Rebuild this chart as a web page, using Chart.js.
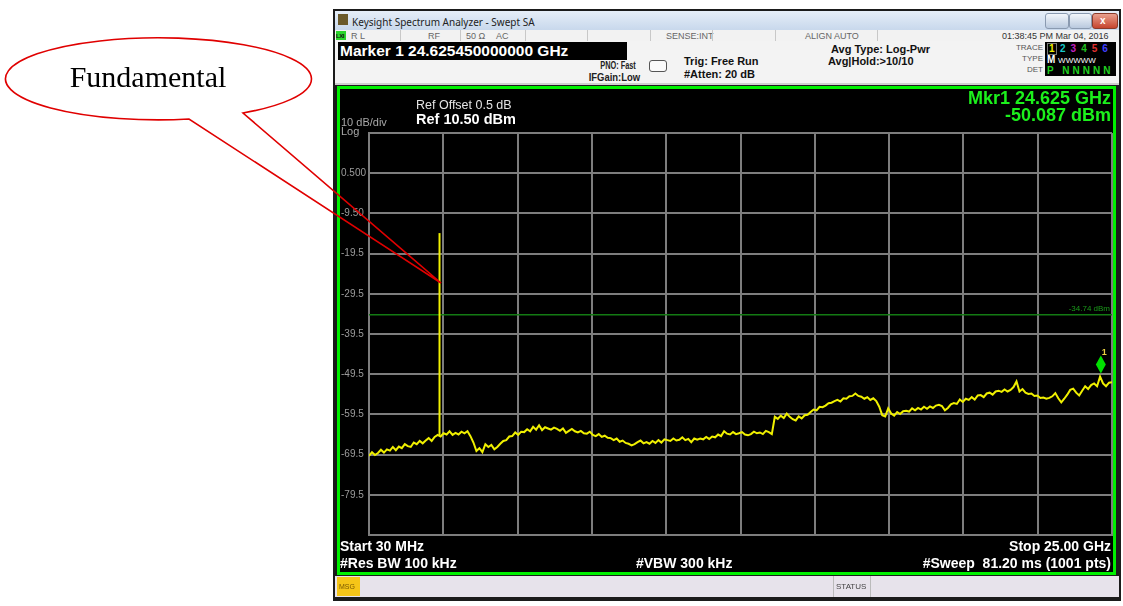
<!DOCTYPE html>
<html>
<head>
<meta charset="utf-8">
<script src="https://cdn.jsdelivr.net/npm/chart.js@4.4.1/dist/chart.umd.min.js"></script>
<style>
  body { margin: 0; width: 1123px; height: 606px; background: #fff; position: relative; overflow: hidden;
         font-family: "Liberation Sans", Arial, sans-serif; }
  .a { position: absolute; white-space: pre; line-height: 1; }
  .box { position: absolute; }
  .st { font-size: 9px; color: #666; top: 32px; }
  .hd { font-size: 11px; font-weight: bold; color: #111; }
  .dim { color: #a8a8a8; font-size: 11px; }
  .big { color: #fff; font-weight: bold; font-size: 14px; }
  .mk { color: #1cf01c; font-weight: bold; font-size: 18px; right: 12px; }
  .vdiv { position: absolute; top: 30px; width: 1px; height: 11px; background: #c8c8c8; }
  #chartWrap { position: absolute; left: 340px; top: 89px; width: 773px; height: 483px; }
</style>
</head>
<body>
<!-- analyzer window -->
<div class="box" style="left:333px;top:9px;width:788px;height:592px;background:#1b1b1b"></div>
<div class="box" style="left:335px;top:11px;width:784px;height:19px;background:linear-gradient(#e6eef8,#c8d8ec)"></div>
<div class="box" style="left:338px;top:14px;width:10px;height:11px;background:#6b5a2a"></div>
<div class="a" style="left:352px;top:15px;font:10px 'Noto Sans',sans-serif;color:#222">Keysight Spectrum Analyzer - Swept SA</div>
<div class="box" style="left:1045px;top:13px;width:22px;height:14px;border-radius:3px;background:linear-gradient(#f2f6fb,#b9c9de);border:1px solid #8a9ab0"></div>
<div class="box" style="left:1069px;top:13px;width:21px;height:14px;border-radius:3px;background:linear-gradient(#f2f6fb,#b9c9de);border:1px solid #8a9ab0"></div>
<div class="box" style="left:1092px;top:13px;width:24px;height:14px;border-radius:3px;background:linear-gradient(#e9a08e,#c6452f);border:1px solid #8a3a2a"></div>
<div class="a" style="left:1100px;top:15px;font:bold 10px sans-serif;color:#fff">x</div>

<!-- status row -->
<div class="box" style="left:335px;top:30px;width:784px;height:11px;background:#f2f2f2"></div>
<div class="box" style="left:336px;top:31px;width:10px;height:9px;background:#2bd42b"></div>
<div class="a" style="left:336px;top:33px;font-size:6px;font-weight:bold;color:#111;letter-spacing:-0.5px">LXI</div>
<div class="a st" style="left:351px">R L</div>
<div class="a st" style="left:428px">RF</div>
<div class="a st" style="left:466px">50 Ω</div>
<div class="a st" style="left:496px">AC</div>
<div class="a st" style="left:666px">SENSE:INT</div>
<div class="a st" style="left:805px">ALIGN AUTO</div>
<div class="a st" style="left:1002px;color:#333">01:38:45 PM Mar 04, 2016</div>
<div class="vdiv" style="left:400px"></div><div class="vdiv" style="left:460px"></div>
<div class="vdiv" style="left:525px"></div><div class="vdiv" style="left:587px"></div>
<div class="vdiv" style="left:650px"></div><div class="vdiv" style="left:712px"></div>
<div class="vdiv" style="left:775px"></div><div class="vdiv" style="left:877px"></div>

<!-- header -->
<div class="box" style="left:335px;top:41px;width:784px;height:44px;background:#f3f3f3"></div>
<div class="box" style="left:335px;top:83px;width:784px;height:2px;background:#cfcfcf"></div>
<div class="box" style="left:338px;top:42px;width:289px;height:18px;background:#000"></div>
<div class="a" style="left:340px;top:43px;font-size:15.5px;font-weight:bold;color:#fff">Marker 1 24.625450000000 GHz</div>
<div class="a" style="right:487px;top:60px;font-size:10.5px;color:#222;font-weight:bold;transform:scaleX(0.7);transform-origin:right">PNO: Fast</div>
<div class="a" style="right:483px;top:72px;font-size:10.5px;color:#222;font-weight:bold;transform:scaleX(0.9);transform-origin:right">IFGain:Low</div>
<div class="box" style="left:649px;top:60px;width:16px;height:10px;border:1px solid #555;border-radius:3px;background:#fafafa"></div>
<div class="a hd" style="left:684px;top:56px">Trig: Free Run</div>
<div class="a hd" style="left:684px;top:69px">#Atten: 20 dB</div>
<div class="a hd" style="left:831px;top:44px">Avg Type: Log-Pwr</div>
<div class="a hd" style="left:828px;top:56px">Avg|Hold:&gt;10/10</div>
<div class="a" style="right:80px;top:44px;font-size:8px;color:#555">TRACE</div>
<div class="a" style="right:80px;top:55px;font-size:8px;color:#555">TYPE</div>
<div class="a" style="right:80px;top:66px;font-size:8px;color:#555">DET</div>
<div class="box" style="left:1045px;top:42px;width:71px;height:34px;background:#000"></div>
<div class="a" style="left:1047px;top:43px;font-size:10px;font-weight:bold;color:#ee0;border:1px solid #777;padding:0 1px">1</div>
<div class="a" style="left:1060px;top:44px;font-size:10px;font-weight:bold;letter-spacing:5px"><span style="color:#18c8c8">2</span><span style="color:#c020c0">3</span><span style="color:#20c020">4</span><span style="color:#e03030">5</span><span style="color:#4040ff">6</span></div>
<div class="a" style="left:1047px;top:55px;font-size:10px;font-weight:bold;color:#fff">M <span style="font-weight:normal;font-size:8px">WWWWW</span></div>
<div class="a" style="left:1047px;top:66px;font-size:10px;font-weight:bold;color:#20d020;letter-spacing:3px">P NNNNN</div>

<!-- screen -->
<div class="box" style="left:337px;top:86px;width:773px;height:483px;border:3px solid #00f000;background:#000"></div>
<div id="chartWrap"><canvas id="saChart" width="773" height="483"></canvas></div>
<div class="a dim" style="left:341px;top:117px">10 dB/div</div>
<div class="a dim" style="left:341px;top:126px">Log</div>
<div class="a" style="left:416px;top:99px;font-size:12.5px;color:#e4e4e4">Ref Offset 0.5 dB</div>
<div class="a big" style="left:416px;top:112px;font-size:14.5px">Ref 10.50 dBm</div>
<div class="a mk" style="top:89px">Mkr1 24.625 GHz</div>
<div class="a mk" style="top:106px">-50.087 dBm</div>
<div class="a big" style="left:340px;top:539px">Start 30 MHz</div>
<div class="a big" style="right:12px;top:539px">Stop 25.00 GHz</div>
<div class="a big" style="left:340px;top:556px">#Res BW 100 kHz</div>
<div class="a big" style="left:636px;top:556px">#VBW 300 kHz</div>
<div class="a big" style="right:12px;top:556px">#Sweep  81.20 ms (1001 pts)</div>

<!-- bottom bar -->
<div class="box" style="left:335px;top:576px;width:784px;height:21px;background:#e7e3eb"></div>
<div class="box" style="left:337px;top:577px;width:23px;height:19px;background:#f5c518"></div>
<div class="a" style="left:339px;top:583px;font-size:7px;color:#7a5a00">MSG</div>
<div class="box" style="left:833px;top:576px;width:1px;height:21px;background:#bbb"></div>
<div class="box" style="left:870px;top:576px;width:1px;height:21px;background:#bbb"></div>
<div class="a" style="left:836px;top:583px;font-size:8px;color:#444">STATUS</div>

<!-- callout -->
<svg class="box" style="left:0;top:0" width="1123" height="606">
  <ellipse cx="158" cy="79" rx="153" ry="41" fill="#fff"/>
  <path d="M189,119 A153,41 0 1,1 243,113 L441,283 Z" fill="none" stroke="#e00000" stroke-width="1.6"/>
  <text x="148" y="87" text-anchor="middle" font-family="Liberation Serif, Times New Roman, serif" font-size="30" fill="#000">Fundamental</text>
</svg>

<script>
const startGHz = 0.03;
const stopGHz = 25.0;
const xDivisions = 10;

// trace 1 (dBm) left to right
const traceDbm = [
  -69.8, -68.9, -69.6, -69.1, -68.3, -69.0, -68.2, -68.5, -67.6, -68.4,
  -67.5, -67.9, -66.9, -67.4, -67.6, -66.5, -66.9, -66.1, -66.7, -66.0,
  -65.4, -66.1, -65.1, -64.6, -65.0, -64.2, -64.5, -63.7, -64.6, -64.1,
  -64.5, -63.8, -64.2, -63.7, -64.9, -66.5, -68.6, -67.9, -68.9, -66.9,
  -67.6, -67.1, -68.2, -67.6, -66.8, -66.1, -65.9, -65.0, -64.9, -64.0,
  -64.6, -63.8, -63.9, -63.2, -63.7, -62.6, -63.3, -62.2, -63.4, -62.7,
  -63.0, -63.3, -62.8, -63.1, -63.6, -63.0, -64.1, -63.6, -63.1, -63.7,
  -64.0, -63.6, -64.2, -64.3, -63.8, -64.6, -64.9, -64.4, -65.1, -64.8,
  -65.3, -65.4, -65.9, -65.5, -66.3, -66.0, -66.6, -66.8, -67.2, -66.9,
  -66.4, -66.0, -66.7, -66.4, -66.8, -66.1, -66.6, -65.9, -66.5, -65.7,
  -65.9, -66.1, -65.5, -66.0, -65.8, -65.2, -65.9, -65.6, -66.4, -65.5,
  -65.8, -65.5, -65.7, -65.1, -65.6, -65.0, -65.2, -64.5, -64.9, -63.7,
  -64.3, -64.5, -63.9, -64.4, -64.2, -63.9, -64.5, -64.7, -64.4, -63.8,
  -64.2, -64.0, -64.4, -63.6, -63.9, -64.4, -60.1, -60.6, -59.8, -60.4,
  -59.3, -60.1, -60.7, -61.0, -60.0, -60.5, -59.7, -59.6, -58.9, -58.3,
  -58.5, -57.6, -57.7, -57.3, -56.7, -56.6, -56.2, -55.9, -56.3, -55.5,
  -55.6, -55.0, -54.9, -54.3, -54.9, -55.1, -55.6, -55.2, -55.9, -55.5,
  -56.2, -57.6, -59.7, -60.0, -58.0, -59.3, -59.8, -58.9, -59.4, -58.7,
  -58.6, -58.8, -58.0, -58.5, -57.9, -58.3, -57.6, -58.1, -57.5, -57.9,
  -57.3, -57.1, -57.4, -58.5, -57.9, -57.0, -56.7, -56.9, -55.8, -56.4,
  -55.6, -55.9, -55.2, -55.8, -54.8, -54.7, -55.2, -54.3, -54.1, -54.6,
  -53.8, -53.6, -53.9, -53.3, -53.8, -53.4, -52.7, -51.3, -53.8, -53.2,
  -54.1, -54.4, -54.3, -54.9, -54.8, -55.4, -55.3, -55.6, -55.4, -55.0,
  -54.2, -55.5, -56.5, -55.6, -54.6, -53.4, -53.1, -54.1, -54.8, -53.6,
  -52.5, -53.2, -52.2, -51.8, -52.5, -50.1, -51.8, -52.5, -51.6, -51.5
];

// fundamental tone
const spikeGHz = 2.40;
const spikeDbm = [-64.7, -14.4];

const displayLineDbm = -34.74;
const markerGHz = 24.625;
const markerDbm = -50.087;

const yTickValues = [10.5, 0.5, -9.5, -19.5, -29.5, -39.5, -49.5, -59.5, -69.5, -79.5, -89.5];
const yTickLabels = ['', '0.500', '-9.50', '-19.5', '-29.5', '-39.5', '-49.5', '-59.5', '-69.5', '-79.5', ''];

const gridColor = '#7d7d7d';
const traceColor = '#f0f000';

const step = (stopGHz - startGHz) / (traceDbm.length - 1);
const tracePoints = traceDbm.map((v, i) => ({ x: startGHz + i * step, y: v }));

// display line label + marker diamond
const overlay = {
  id: 'overlay',
  afterDatasetsDraw(chart) {
    const { ctx, scales: { x, y }, chartArea } = chart;
    ctx.save();
    ctx.fillStyle = '#1a9a1a';
    ctx.font = '8px "Liberation Sans", Arial';
    ctx.textAlign = 'right';
    ctx.textBaseline = 'bottom';
    ctx.fillText('-34.74 dBm', chartArea.right - 2, y.getPixelForValue(displayLineDbm) - 2);

    const mx = x.getPixelForValue(markerGHz);
    const my = y.getPixelForValue(markerDbm) - 12;
    ctx.fillStyle = '#00e000';
    ctx.beginPath();
    ctx.moveTo(mx, my - 9);
    ctx.lineTo(mx + 5, my);
    ctx.lineTo(mx, my + 9);
    ctx.lineTo(mx - 5, my);
    ctx.closePath();
    ctx.fill();
    ctx.fillStyle = '#e8d040';
    ctx.font = 'bold 9px "Liberation Sans", Arial';
    ctx.textAlign = 'left';
    ctx.fillText('1', mx + 1, my - 8);
    ctx.restore();
  }
};

new Chart(document.getElementById('saChart'), {
  type: 'line',
  data: {
    datasets: [
      {
        label: 'Trace 1',
        data: tracePoints,
        borderColor: traceColor,
        borderWidth: 2,
        pointRadius: 0,
        tension: 0,
      },
      {
        label: 'Fundamental',
        data: spikeDbm.map(v => ({ x: spikeGHz, y: v })),
        borderColor: traceColor,
        borderWidth: 2,
        pointRadius: 0,
      },
      {
        label: 'Display line',
        data: [{ x: startGHz, y: displayLineDbm }, { x: stopGHz, y: displayLineDbm }],
        borderColor: '#137a13',
        borderWidth: 1.5,
        pointRadius: 0,
      },
    ],
  },
  plugins: [overlay],
  options: {
    responsive: false,
    animation: false,
    devicePixelRatio: 1,
    layout: { padding: { left: 1, right: 1, top: 44, bottom: 37 } },
    plugins: { legend: { display: false }, tooltip: { enabled: false } },
    scales: {
      x: {
        type: 'linear',
        min: startGHz,
        max: stopGHz,
        afterBuildTicks: s => {
          s.ticks = [];
          for (let i = 0; i <= xDivisions; i++) {
            s.ticks.push({ value: startGHz + i * (stopGHz - startGHz) / xDivisions });
          }
        },
        afterFit: s => { s.height = 0; },
        ticks: { display: false },
        grid: { color: gridColor, lineWidth: 2, drawTicks: false },
        border: { color: gridColor, width: 2 },
      },
      y: {
        type: 'linear',
        min: -89.5,
        max: 10.5,
        afterBuildTicks: s => { s.ticks = yTickValues.map(v => ({ value: v })); },
        afterFit: s => { s.width = 28; },
        ticks: {
          callback: (v, i) => yTickLabels[i],
          color: '#9c9c9c',
          font: { size: 10, family: '"Liberation Sans", Arial' },
          crossAlign: 'far',
          padding: 0,
        },
        grid: { color: gridColor, lineWidth: 2, drawTicks: false },
        border: { color: gridColor, width: 2 },
      },
    },
  },
});
</script>
</body>
</html>
